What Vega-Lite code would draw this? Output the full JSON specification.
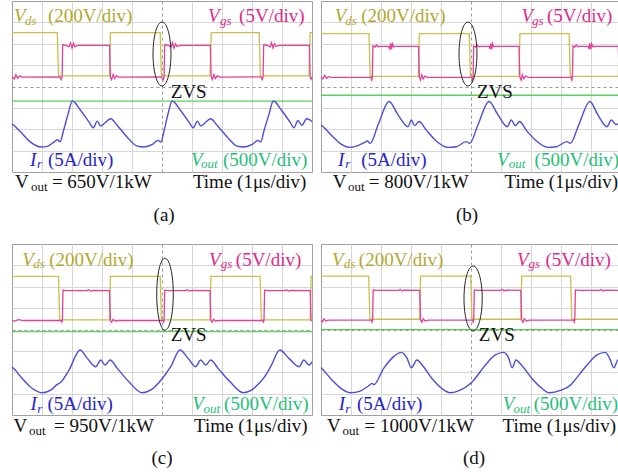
{
"$schema":"https://vega.github.io/schema/vega-lite/v6.json",
"padding":{"left":8,"top":0,"right":0,"bottom":0},
"background":"white",
"config":{"view":{"stroke":"#a0a0a0","strokeWidth":1},"axis":{"minExtent":0}},
"datasets":{
"w":[
{"p":"a","s":"vds","t":0,"v":2.52},{"p":"a","s":"vds","t":1.51,"v":2.52},{"p":"a","s":"vds","t":1.55,"v":0.5},{"p":"a","s":"vds","t":3.25,"v":0.5},{"p":"a","s":"vds","t":3.28,"v":2.52},{"p":"a","s":"vds","t":4.94,"v":2.52},{"p":"a","s":"vds","t":4.98,"v":0.5},{"p":"a","s":"vds","t":6.6,"v":0.5},{"p":"a","s":"vds","t":6.64,"v":2.52},{"p":"a","s":"vds","t":8.24,"v":2.52},{"p":"a","s":"vds","t":8.28,"v":0.5},{"p":"a","s":"vds","t":9.9,"v":0.5},{"p":"a","s":"vds","t":9.94,"v":2.52},{"p":"a","s":"vds","t":10,"v":2.52},
{"p":"a","s":"vgs","t":0,"v":0.45},{"p":"a","s":"vgs","t":0.08,"v":0.36},{"p":"a","s":"vgs","t":0.13,"v":0.55},{"p":"a","s":"vgs","t":0.19,"v":0.38},{"p":"a","s":"vgs","t":0.26,"v":0.5},{"p":"a","s":"vgs","t":0.34,"v":0.44},{"p":"a","s":"vgs","t":1.6,"v":0.45},{"p":"a","s":"vgs","t":1.64,"v":0.32},{"p":"a","s":"vgs","t":1.67,"v":0.45},{"p":"a","s":"vgs","t":1.69,"v":1.95},{"p":"a","s":"vgs","t":1.8,"v":1.92},{"p":"a","s":"vgs","t":1.9,"v":1.86},{"p":"a","s":"vgs","t":1.95,"v":2.04},{"p":"a","s":"vgs","t":2.0,"v":1.8},{"p":"a","s":"vgs","t":2.05,"v":2.02},{"p":"a","s":"vgs","t":2.1,"v":1.86},{"p":"a","s":"vgs","t":2.18,"v":1.92},{"p":"a","s":"vgs","t":3.25,"v":1.92},{"p":"a","s":"vgs","t":3.28,"v":0.45},{"p":"a","s":"vgs","t":3.32,"v":0.32},{"p":"a","s":"vgs","t":3.37,"v":0.56},{"p":"a","s":"vgs","t":3.42,"v":0.37},{"p":"a","s":"vgs","t":3.48,"v":0.51},{"p":"a","s":"vgs","t":3.56,"v":0.44},{"p":"a","s":"vgs","t":4.98,"v":0.45},{"p":"a","s":"vgs","t":5.04,"v":0.32},{"p":"a","s":"vgs","t":5.07,"v":0.45},{"p":"a","s":"vgs","t":5.09,"v":1.95},{"p":"a","s":"vgs","t":5.2,"v":1.93},{"p":"a","s":"vgs","t":5.3,"v":1.85},{"p":"a","s":"vgs","t":5.35,"v":2.05},{"p":"a","s":"vgs","t":5.4,"v":1.8},{"p":"a","s":"vgs","t":5.45,"v":2.0},{"p":"a","s":"vgs","t":5.5,"v":1.87},{"p":"a","s":"vgs","t":5.6,"v":1.92},{"p":"a","s":"vgs","t":6.61,"v":1.92},{"p":"a","s":"vgs","t":6.64,"v":0.45},{"p":"a","s":"vgs","t":6.68,"v":0.32},{"p":"a","s":"vgs","t":6.73,"v":0.56},{"p":"a","s":"vgs","t":6.78,"v":0.37},{"p":"a","s":"vgs","t":6.84,"v":0.51},{"p":"a","s":"vgs","t":6.92,"v":0.44},{"p":"a","s":"vgs","t":8.3,"v":0.45},{"p":"a","s":"vgs","t":8.34,"v":0.32},{"p":"a","s":"vgs","t":8.37,"v":0.45},{"p":"a","s":"vgs","t":8.39,"v":1.95},{"p":"a","s":"vgs","t":8.5,"v":1.93},{"p":"a","s":"vgs","t":8.6,"v":1.85},{"p":"a","s":"vgs","t":8.65,"v":2.05},{"p":"a","s":"vgs","t":8.7,"v":1.8},{"p":"a","s":"vgs","t":8.75,"v":2.0},{"p":"a","s":"vgs","t":8.8,"v":1.87},{"p":"a","s":"vgs","t":8.9,"v":1.92},{"p":"a","s":"vgs","t":9.91,"v":1.92},{"p":"a","s":"vgs","t":9.94,"v":0.45},{"p":"a","s":"vgs","t":9.97,"v":0.34},{"p":"a","s":"vgs","t":10,"v":0.45},
{"p":"a","s":"vout","t":0,"v":-0.68},{"p":"a","s":"vout","t":10,"v":-0.68},
{"p":"a","s":"ir","t":0,"v":-1.75},{"p":"a","s":"ir","t":0.03,"v":-1.78},{"p":"a","s":"ir","t":0.29,"v":-2.13},{"p":"a","s":"ir","t":0.62,"v":-2.6},{"p":"a","s":"ir","t":0.96,"v":-2.83},{"p":"a","s":"ir","t":1.18,"v":-2.8},{"p":"a","s":"ir","t":1.4,"v":-2.6},{"p":"a","s":"ir","t":1.51,"v":-2.49},{"p":"a","s":"ir","t":1.6,"v":-2.58},{"p":"a","s":"ir","t":1.73,"v":-2.0},{"p":"a","s":"ir","t":1.87,"v":-1.28},{"p":"a","s":"ir","t":2.01,"v":-0.68},{"p":"a","s":"ir","t":2.29,"v":-1.12},{"p":"a","s":"ir","t":2.57,"v":-1.67},{"p":"a","s":"ir","t":2.71,"v":-1.93},{"p":"a","s":"ir","t":2.84,"v":-1.62},{"p":"a","s":"ir","t":2.96,"v":-1.85},{"p":"a","s":"ir","t":3.12,"v":-1.67},{"p":"a","s":"ir","t":3.29,"v":-1.51},{"p":"a","s":"ir","t":3.51,"v":-1.82},{"p":"a","s":"ir","t":3.84,"v":-2.37},{"p":"a","s":"ir","t":4.18,"v":-2.79},{"p":"a","s":"ir","t":4.4,"v":-2.83},{"p":"a","s":"ir","t":4.68,"v":-2.71},{"p":"a","s":"ir","t":4.87,"v":-2.52},{"p":"a","s":"ir","t":4.96,"v":-2.6},{"p":"a","s":"ir","t":5.07,"v":-2.07},{"p":"a","s":"ir","t":5.2,"v":-1.28},{"p":"a","s":"ir","t":5.34,"v":-0.68},{"p":"a","s":"ir","t":5.62,"v":-1.12},{"p":"a","s":"ir","t":5.9,"v":-1.67},{"p":"a","s":"ir","t":6.04,"v":-1.93},{"p":"a","s":"ir","t":6.18,"v":-1.62},{"p":"a","s":"ir","t":6.29,"v":-1.85},{"p":"a","s":"ir","t":6.46,"v":-1.67},{"p":"a","s":"ir","t":6.62,"v":-1.51},{"p":"a","s":"ir","t":6.84,"v":-1.82},{"p":"a","s":"ir","t":7.18,"v":-2.37},{"p":"a","s":"ir","t":7.51,"v":-2.79},{"p":"a","s":"ir","t":7.73,"v":-2.83},{"p":"a","s":"ir","t":8.01,"v":-2.71},{"p":"a","s":"ir","t":8.2,"v":-2.52},{"p":"a","s":"ir","t":8.29,"v":-2.6},{"p":"a","s":"ir","t":8.4,"v":-2.07},{"p":"a","s":"ir","t":8.57,"v":-1.28},{"p":"a","s":"ir","t":8.71,"v":-0.68},{"p":"a","s":"ir","t":8.99,"v":-1.12},{"p":"a","s":"ir","t":9.27,"v":-1.67},{"p":"a","s":"ir","t":9.4,"v":-1.93},{"p":"a","s":"ir","t":9.53,"v":-1.59},{"p":"a","s":"ir","t":9.66,"v":-1.82},{"p":"a","s":"ir","t":9.82,"v":-1.51},{"p":"a","s":"ir","t":9.96,"v":-1.59},{"p":"a","s":"ir","t":10,"v":-1.65},

{"p":"b","s":"vds","t":0,"v":2.47},{"p":"b","s":"vds","t":1.6,"v":2.47},{"p":"b","s":"vds","t":1.64,"v":0.47},{"p":"b","s":"vds","t":3.25,"v":0.47},{"p":"b","s":"vds","t":3.28,"v":2.47},{"p":"b","s":"vds","t":4.94,"v":2.47},{"p":"b","s":"vds","t":4.98,"v":0.47},{"p":"b","s":"vds","t":6.6,"v":0.47},{"p":"b","s":"vds","t":6.63,"v":2.47},{"p":"b","s":"vds","t":8.27,"v":2.47},{"p":"b","s":"vds","t":8.31,"v":0.47},{"p":"b","s":"vds","t":9.91,"v":0.47},{"p":"b","s":"vds","t":9.94,"v":2.47},{"p":"b","s":"vds","t":10,"v":2.47},
{"p":"b","s":"vgs","t":0,"v":0.43},{"p":"b","s":"vgs","t":0.06,"v":0.35},{"p":"b","s":"vgs","t":0.12,"v":0.52},{"p":"b","s":"vgs","t":0.18,"v":0.38},{"p":"b","s":"vgs","t":0.25,"v":0.46},{"p":"b","s":"vgs","t":0.33,"v":0.43},{"p":"b","s":"vgs","t":1.66,"v":0.43},{"p":"b","s":"vgs","t":1.69,"v":0.3},{"p":"b","s":"vgs","t":1.71,"v":0.43},{"p":"b","s":"vgs","t":1.73,"v":1.9},{"p":"b","s":"vgs","t":1.8,"v":1.84},{"p":"b","s":"vgs","t":1.85,"v":1.95},{"p":"b","s":"vgs","t":1.9,"v":1.86},{"p":"b","s":"vgs","t":2.0,"v":1.88},{"p":"b","s":"vgs","t":2.25,"v":1.88},{"p":"b","s":"vgs","t":2.29,"v":1.76},{"p":"b","s":"vgs","t":2.32,"v":2.02},{"p":"b","s":"vgs","t":2.35,"v":1.74},{"p":"b","s":"vgs","t":2.38,"v":2.0},{"p":"b","s":"vgs","t":2.42,"v":1.86},{"p":"b","s":"vgs","t":2.5,"v":1.88},{"p":"b","s":"vgs","t":3.25,"v":1.88},{"p":"b","s":"vgs","t":3.28,"v":0.43},{"p":"b","s":"vgs","t":3.32,"v":0.3},{"p":"b","s":"vgs","t":3.36,"v":0.54},{"p":"b","s":"vgs","t":3.41,"v":0.36},{"p":"b","s":"vgs","t":3.47,"v":0.49},{"p":"b","s":"vgs","t":3.55,"v":0.43},{"p":"b","s":"vgs","t":5.02,"v":0.43},{"p":"b","s":"vgs","t":5.05,"v":0.3},{"p":"b","s":"vgs","t":5.07,"v":0.43},{"p":"b","s":"vgs","t":5.09,"v":1.9},{"p":"b","s":"vgs","t":5.15,"v":1.84},{"p":"b","s":"vgs","t":5.2,"v":1.95},{"p":"b","s":"vgs","t":5.25,"v":1.86},{"p":"b","s":"vgs","t":5.35,"v":1.88},{"p":"b","s":"vgs","t":5.6,"v":1.88},{"p":"b","s":"vgs","t":5.63,"v":1.76},{"p":"b","s":"vgs","t":5.66,"v":2.02},{"p":"b","s":"vgs","t":5.69,"v":1.74},{"p":"b","s":"vgs","t":5.72,"v":2.0},{"p":"b","s":"vgs","t":5.76,"v":1.86},{"p":"b","s":"vgs","t":5.85,"v":1.88},{"p":"b","s":"vgs","t":6.6,"v":1.88},{"p":"b","s":"vgs","t":6.63,"v":0.43},{"p":"b","s":"vgs","t":6.67,"v":0.3},{"p":"b","s":"vgs","t":6.71,"v":0.54},{"p":"b","s":"vgs","t":6.76,"v":0.36},{"p":"b","s":"vgs","t":6.82,"v":0.49},{"p":"b","s":"vgs","t":6.9,"v":0.43},{"p":"b","s":"vgs","t":8.33,"v":0.43},{"p":"b","s":"vgs","t":8.36,"v":0.3},{"p":"b","s":"vgs","t":8.38,"v":0.43},{"p":"b","s":"vgs","t":8.4,"v":1.9},{"p":"b","s":"vgs","t":8.46,"v":1.84},{"p":"b","s":"vgs","t":8.51,"v":1.95},{"p":"b","s":"vgs","t":8.56,"v":1.86},{"p":"b","s":"vgs","t":8.65,"v":1.88},{"p":"b","s":"vgs","t":8.9,"v":1.88},{"p":"b","s":"vgs","t":8.93,"v":1.76},{"p":"b","s":"vgs","t":8.96,"v":2.02},{"p":"b","s":"vgs","t":8.99,"v":1.74},{"p":"b","s":"vgs","t":9.02,"v":2.0},{"p":"b","s":"vgs","t":9.06,"v":1.86},{"p":"b","s":"vgs","t":9.15,"v":1.88},{"p":"b","s":"vgs","t":9.91,"v":1.88},{"p":"b","s":"vgs","t":9.94,"v":0.43},{"p":"b","s":"vgs","t":9.97,"v":0.32},{"p":"b","s":"vgs","t":10,"v":0.43},
{"p":"b","s":"vout","t":0,"v":-0.41},{"p":"b","s":"vout","t":10,"v":-0.41},
{"p":"b","s":"ir","t":0,"v":-1.8},{"p":"b","s":"ir","t":0.03,"v":-1.83},{"p":"b","s":"ir","t":0.34,"v":-2.27},{"p":"b","s":"ir","t":0.68,"v":-2.71},{"p":"b","s":"ir","t":0.96,"v":-2.85},{"p":"b","s":"ir","t":1.23,"v":-2.77},{"p":"b","s":"ir","t":1.46,"v":-2.61},{"p":"b","s":"ir","t":1.54,"v":-2.55},{"p":"b","s":"ir","t":1.64,"v":-2.66},{"p":"b","s":"ir","t":1.9,"v":-1.8},{"p":"b","s":"ir","t":2.27,"v":-0.7},{"p":"b","s":"ir","t":2.57,"v":-1.33},{"p":"b","s":"ir","t":2.9,"v":-1.88},{"p":"b","s":"ir","t":3.01,"v":-1.57},{"p":"b","s":"ir","t":3.12,"v":-1.83},{"p":"b","s":"ir","t":3.27,"v":-1.64},{"p":"b","s":"ir","t":3.51,"v":-2.04},{"p":"b","s":"ir","t":3.84,"v":-2.55},{"p":"b","s":"ir","t":4.23,"v":-2.85},{"p":"b","s":"ir","t":4.51,"v":-2.82},{"p":"b","s":"ir","t":4.84,"v":-2.58},{"p":"b","s":"ir","t":4.96,"v":-2.66},{"p":"b","s":"ir","t":5.23,"v":-1.8},{"p":"b","s":"ir","t":5.6,"v":-0.7},{"p":"b","s":"ir","t":5.9,"v":-1.33},{"p":"b","s":"ir","t":6.21,"v":-1.88},{"p":"b","s":"ir","t":6.34,"v":-1.57},{"p":"b","s":"ir","t":6.48,"v":-1.83},{"p":"b","s":"ir","t":6.62,"v":-1.64},{"p":"b","s":"ir","t":6.84,"v":-2.04},{"p":"b","s":"ir","t":7.18,"v":-2.55},{"p":"b","s":"ir","t":7.57,"v":-2.85},{"p":"b","s":"ir","t":7.84,"v":-2.82},{"p":"b","s":"ir","t":8.2,"v":-2.58},{"p":"b","s":"ir","t":8.31,"v":-2.66},{"p":"b","s":"ir","t":8.59,"v":-1.8},{"p":"b","s":"ir","t":8.96,"v":-0.7},{"p":"b","s":"ir","t":9.23,"v":-1.33},{"p":"b","s":"ir","t":9.53,"v":-1.88},{"p":"b","s":"ir","t":9.68,"v":-1.57},{"p":"b","s":"ir","t":9.84,"v":-1.78},{"p":"b","s":"ir","t":10,"v":-1.57},

{"p":"c","s":"vds","t":0,"v":2.49},{"p":"c","s":"vds","t":1.55,"v":2.49},{"p":"c","s":"vds","t":1.59,"v":0.45},{"p":"c","s":"vds","t":3.25,"v":0.45},{"p":"c","s":"vds","t":3.28,"v":2.49},{"p":"c","s":"vds","t":4.94,"v":2.49},{"p":"c","s":"vds","t":4.98,"v":0.45},{"p":"c","s":"vds","t":6.6,"v":0.45},{"p":"c","s":"vds","t":6.63,"v":2.49},{"p":"c","s":"vds","t":8.27,"v":2.49},{"p":"c","s":"vds","t":8.31,"v":0.45},{"p":"c","s":"vds","t":9.94,"v":0.45},{"p":"c","s":"vds","t":9.97,"v":2.49},{"p":"c","s":"vds","t":10,"v":2.49},
{"p":"c","s":"vgs","t":0,"v":0.42},{"p":"c","s":"vgs","t":0.1,"v":0.39},{"p":"c","s":"vgs","t":0.2,"v":0.46},{"p":"c","s":"vgs","t":0.4,"v":0.42},{"p":"c","s":"vgs","t":1.64,"v":0.42},{"p":"c","s":"vgs","t":1.66,"v":0.35},{"p":"c","s":"vgs","t":1.68,"v":0.42},{"p":"c","s":"vgs","t":1.7,"v":1.84},{"p":"c","s":"vgs","t":1.8,"v":1.82},{"p":"c","s":"vgs","t":2.5,"v":1.82},{"p":"c","s":"vgs","t":2.55,"v":1.86},{"p":"c","s":"vgs","t":2.62,"v":1.8},{"p":"c","s":"vgs","t":2.7,"v":1.83},{"p":"c","s":"vgs","t":3.25,"v":1.82},{"p":"c","s":"vgs","t":3.28,"v":0.42},{"p":"c","s":"vgs","t":3.32,"v":0.34},{"p":"c","s":"vgs","t":3.37,"v":0.48},{"p":"c","s":"vgs","t":3.43,"v":0.4},{"p":"c","s":"vgs","t":3.55,"v":0.42},{"p":"c","s":"vgs","t":5.03,"v":0.42},{"p":"c","s":"vgs","t":5.05,"v":0.35},{"p":"c","s":"vgs","t":5.07,"v":0.42},{"p":"c","s":"vgs","t":5.09,"v":1.84},{"p":"c","s":"vgs","t":5.2,"v":1.82},{"p":"c","s":"vgs","t":5.8,"v":1.82},{"p":"c","s":"vgs","t":5.85,"v":1.86},{"p":"c","s":"vgs","t":5.92,"v":1.8},{"p":"c","s":"vgs","t":6.0,"v":1.83},{"p":"c","s":"vgs","t":6.6,"v":1.82},{"p":"c","s":"vgs","t":6.63,"v":0.42},{"p":"c","s":"vgs","t":6.67,"v":0.34},{"p":"c","s":"vgs","t":6.72,"v":0.48},{"p":"c","s":"vgs","t":6.78,"v":0.4},{"p":"c","s":"vgs","t":6.9,"v":0.42},{"p":"c","s":"vgs","t":8.36,"v":0.42},{"p":"c","s":"vgs","t":8.38,"v":0.35},{"p":"c","s":"vgs","t":8.4,"v":0.42},{"p":"c","s":"vgs","t":8.42,"v":1.84},{"p":"c","s":"vgs","t":8.55,"v":1.82},{"p":"c","s":"vgs","t":9.1,"v":1.82},{"p":"c","s":"vgs","t":9.15,"v":1.86},{"p":"c","s":"vgs","t":9.22,"v":1.8},{"p":"c","s":"vgs","t":9.3,"v":1.83},{"p":"c","s":"vgs","t":9.94,"v":1.82},{"p":"c","s":"vgs","t":9.97,"v":0.42},{"p":"c","s":"vgs","t":10,"v":0.4},
{"p":"c","s":"vout","t":0,"v":-0.1},{"p":"c","s":"vout","t":10,"v":-0.1},
{"p":"c","s":"ir","t":0,"v":-1.76},{"p":"c","s":"ir","t":0.03,"v":-1.79},{"p":"c","s":"ir","t":0.34,"v":-2.29},{"p":"c","s":"ir","t":0.68,"v":-2.76},{"p":"c","s":"ir","t":1.01,"v":-2.96},{"p":"c","s":"ir","t":1.29,"v":-2.84},{"p":"c","s":"ir","t":1.51,"v":-2.57},{"p":"c","s":"ir","t":1.62,"v":-2.48},{"p":"c","s":"ir","t":1.9,"v":-1.9},{"p":"c","s":"ir","t":2.27,"v":-0.96},{"p":"c","s":"ir","t":2.51,"v":-1.35},{"p":"c","s":"ir","t":2.79,"v":-1.74},{"p":"c","s":"ir","t":2.96,"v":-1.43},{"p":"c","s":"ir","t":3.1,"v":-1.66},{"p":"c","s":"ir","t":3.27,"v":-1.43},{"p":"c","s":"ir","t":3.51,"v":-1.82},{"p":"c","s":"ir","t":3.9,"v":-2.45},{"p":"c","s":"ir","t":4.34,"v":-2.96},{"p":"c","s":"ir","t":4.62,"v":-2.84},{"p":"c","s":"ir","t":4.9,"v":-2.48},{"p":"c","s":"ir","t":5.01,"v":-2.29},{"p":"c","s":"ir","t":5.29,"v":-1.74},{"p":"c","s":"ir","t":5.6,"v":-0.96},{"p":"c","s":"ir","t":5.87,"v":-1.35},{"p":"c","s":"ir","t":6.12,"v":-1.74},{"p":"c","s":"ir","t":6.29,"v":-1.43},{"p":"c","s":"ir","t":6.46,"v":-1.66},{"p":"c","s":"ir","t":6.62,"v":-1.43},{"p":"c","s":"ir","t":6.87,"v":-1.82},{"p":"c","s":"ir","t":7.27,"v":-2.45},{"p":"c","s":"ir","t":7.71,"v":-2.96},{"p":"c","s":"ir","t":7.98,"v":-2.84},{"p":"c","s":"ir","t":8.23,"v":-2.53},{"p":"c","s":"ir","t":8.38,"v":-2.29},{"p":"c","s":"ir","t":8.62,"v":-1.74},{"p":"c","s":"ir","t":8.93,"v":-0.96},{"p":"c","s":"ir","t":9.23,"v":-1.35},{"p":"c","s":"ir","t":9.57,"v":-1.74},{"p":"c","s":"ir","t":9.73,"v":-1.43},{"p":"c","s":"ir","t":9.9,"v":-1.66},{"p":"c","s":"ir","t":10,"v":-1.51},

{"p":"d","s":"vds","t":0,"v":2.5},{"p":"d","s":"vds","t":1.59,"v":2.5},{"p":"d","s":"vds","t":1.63,"v":0.48},{"p":"d","s":"vds","t":3.29,"v":0.48},{"p":"d","s":"vds","t":3.32,"v":2.5},{"p":"d","s":"vds","t":4.99,"v":2.5},{"p":"d","s":"vds","t":5.03,"v":0.48},{"p":"d","s":"vds","t":6.66,"v":0.48},{"p":"d","s":"vds","t":6.69,"v":2.5},{"p":"d","s":"vds","t":8.32,"v":2.5},{"p":"d","s":"vds","t":8.36,"v":0.48},{"p":"d","s":"vds","t":9.96,"v":0.48},{"p":"d","s":"vds","t":9.99,"v":2.5},{"p":"d","s":"vds","t":10,"v":2.5},
{"p":"d","s":"vgs","t":0,"v":0.44},{"p":"d","s":"vgs","t":0.05,"v":0.36},{"p":"d","s":"vgs","t":0.1,"v":0.5},{"p":"d","s":"vgs","t":0.16,"v":0.4},{"p":"d","s":"vgs","t":0.25,"v":0.44},{"p":"d","s":"vgs","t":1.68,"v":0.44},{"p":"d","s":"vgs","t":1.7,"v":0.35},{"p":"d","s":"vgs","t":1.72,"v":0.44},{"p":"d","s":"vgs","t":1.74,"v":1.85},{"p":"d","s":"vgs","t":1.85,"v":1.83},{"p":"d","s":"vgs","t":2.6,"v":1.83},{"p":"d","s":"vgs","t":2.64,"v":1.88},{"p":"d","s":"vgs","t":2.7,"v":1.8},{"p":"d","s":"vgs","t":2.76,"v":1.84},{"p":"d","s":"vgs","t":3.29,"v":1.83},{"p":"d","s":"vgs","t":3.32,"v":0.44},{"p":"d","s":"vgs","t":3.36,"v":0.34},{"p":"d","s":"vgs","t":3.41,"v":0.5},{"p":"d","s":"vgs","t":3.47,"v":0.4},{"p":"d","s":"vgs","t":3.58,"v":0.44},{"p":"d","s":"vgs","t":5.05,"v":0.44},{"p":"d","s":"vgs","t":5.07,"v":0.35},{"p":"d","s":"vgs","t":5.09,"v":0.44},{"p":"d","s":"vgs","t":5.11,"v":1.85},{"p":"d","s":"vgs","t":5.25,"v":1.83},{"p":"d","s":"vgs","t":6.0,"v":1.83},{"p":"d","s":"vgs","t":6.04,"v":1.88},{"p":"d","s":"vgs","t":6.1,"v":1.8},{"p":"d","s":"vgs","t":6.16,"v":1.84},{"p":"d","s":"vgs","t":6.66,"v":1.83},{"p":"d","s":"vgs","t":6.69,"v":0.44},{"p":"d","s":"vgs","t":6.73,"v":0.34},{"p":"d","s":"vgs","t":6.78,"v":0.5},{"p":"d","s":"vgs","t":6.84,"v":0.4},{"p":"d","s":"vgs","t":6.95,"v":0.44},{"p":"d","s":"vgs","t":8.42,"v":0.44},{"p":"d","s":"vgs","t":8.44,"v":0.35},{"p":"d","s":"vgs","t":8.46,"v":0.44},{"p":"d","s":"vgs","t":8.48,"v":1.85},{"p":"d","s":"vgs","t":8.6,"v":1.83},{"p":"d","s":"vgs","t":9.3,"v":1.83},{"p":"d","s":"vgs","t":9.34,"v":1.88},{"p":"d","s":"vgs","t":9.4,"v":1.8},{"p":"d","s":"vgs","t":9.46,"v":1.84},{"p":"d","s":"vgs","t":9.96,"v":1.83},{"p":"d","s":"vgs","t":9.99,"v":0.44},{"p":"d","s":"vgs","t":10,"v":0.44},
{"p":"d","s":"vout","t":0,"v":-0.01},{"p":"d","s":"vout","t":10,"v":-0.01},
{"p":"d","s":"ir","t":0,"v":-1.78},{"p":"d","s":"ir","t":0.03,"v":-1.82},{"p":"d","s":"ir","t":0.37,"v":-2.37},{"p":"d","s":"ir","t":0.7,"v":-2.79},{"p":"d","s":"ir","t":0.98,"v":-2.96},{"p":"d","s":"ir","t":1.31,"v":-2.88},{"p":"d","s":"ir","t":1.59,"v":-2.63},{"p":"d","s":"ir","t":1.7,"v":-2.52},{"p":"d","s":"ir","t":1.76,"v":-2.58},{"p":"d","s":"ir","t":2.09,"v":-1.82},{"p":"d","s":"ir","t":2.42,"v":-1.27},{"p":"d","s":"ir","t":2.68,"v":-1.07},{"p":"d","s":"ir","t":2.87,"v":-1.35},{"p":"d","s":"ir","t":3.01,"v":-1.79},{"p":"d","s":"ir","t":3.2,"v":-1.43},{"p":"d","s":"ir","t":3.37,"v":-1.66},{"p":"d","s":"ir","t":3.7,"v":-2.29},{"p":"d","s":"ir","t":4.03,"v":-2.76},{"p":"d","s":"ir","t":4.31,"v":-2.96},{"p":"d","s":"ir","t":4.64,"v":-2.84},{"p":"d","s":"ir","t":4.98,"v":-2.53},{"p":"d","s":"ir","t":5.09,"v":-2.37},{"p":"d","s":"ir","t":5.48,"v":-1.66},{"p":"d","s":"ir","t":5.81,"v":-1.19},{"p":"d","s":"ir","t":6.09,"v":-1.07},{"p":"d","s":"ir","t":6.26,"v":-1.35},{"p":"d","s":"ir","t":6.37,"v":-1.79},{"p":"d","s":"ir","t":6.5,"v":-1.43},{"p":"d","s":"ir","t":6.68,"v":-1.66},{"p":"d","s":"ir","t":7.03,"v":-2.29},{"p":"d","s":"ir","t":7.37,"v":-2.76},{"p":"d","s":"ir","t":7.61,"v":-2.96},{"p":"d","s":"ir","t":7.98,"v":-2.85},{"p":"d","s":"ir","t":8.34,"v":-2.57},{"p":"d","s":"ir","t":8.46,"v":-2.37},{"p":"d","s":"ir","t":8.87,"v":-1.66},{"p":"d","s":"ir","t":9.2,"v":-1.19},{"p":"d","s":"ir","t":9.48,"v":-1.07},{"p":"d","s":"ir","t":9.62,"v":-1.35},{"p":"d","s":"ir","t":9.76,"v":-1.79},{"p":"d","s":"ir","t":9.9,"v":-1.43},{"p":"d","s":"ir","t":10,"v":-1.59}
],
"lab":[
{"p":"a","r":"sym","s":"vdsT","t":0.07,"v":3.01,"txt":"V"},{"p":"a","r":"sub","s":"vdsT","t":0.43,"v":2.9,"txt":"ds"},{"p":"a","r":"txt","s":"vdsT","t":1.2,"v":3.01,"txt":"(200V/div)"},
{"p":"a","r":"sym","s":"vgsT","t":6.53,"v":3.01,"txt":"V"},{"p":"a","r":"sub","s":"vgsT","t":6.93,"v":2.9,"txt":"gs"},{"p":"a","r":"txt","s":"vgsT","t":7.57,"v":3.01,"txt":"(5V/div)"},
{"p":"a","r":"sym","s":"irT","t":0.6,"v":-3.72,"txt":"I"},{"p":"a","r":"sub","s":"irT","t":0.83,"v":-3.83,"txt":"r"},{"p":"a","r":"txt","s":"irT","t":1.2,"v":-3.72,"txt":"(5A/div)"},
{"p":"a","r":"sym","s":"voutT","t":5.97,"v":-3.72,"txt":"V"},{"p":"a","r":"sub","s":"voutT","t":6.3,"v":-3.83,"txt":"out"},{"p":"a","r":"txt","s":"voutT","t":7.03,"v":-3.72,"txt":"(500V/div)"},
{"p":"a","r":"txt","s":"k","t":0.1,"v":-4.75,"txt":"V"},{"p":"a","r":"sub2","s":"k","t":0.63,"v":-4.89,"txt":"out"},{"p":"a","r":"txt","s":"k","t":1.33,"v":-4.75,"txt":"= 650V/1kW"},{"p":"a","r":"txt","s":"k","t":6.03,"v":-4.75,"txt":"Time (1μs/div)"},
{"p":"a","r":"txt","s":"k","t":5.29,"v":-0.52,"txt":"ZVS"},{"p":"a","r":"cap","s":"k","t":5.07,"v":-6.29,"txt":"(a)"},{"p":"a","r":"ell","s":"k","t":5.0,"v":1.52,"txt":""},

{"p":"b","r":"sym","s":"vdsT","t":0.46,"v":3.01,"txt":"V"},{"p":"b","r":"sub","s":"vdsT","t":0.81,"v":2.9,"txt":"ds"},{"p":"b","r":"txt","s":"vdsT","t":1.34,"v":3.01,"txt":"(200V/div)"},
{"p":"b","r":"sym","s":"vgsT","t":6.68,"v":3.01,"txt":"V"},{"p":"b","r":"sub","s":"vgsT","t":7.03,"v":2.9,"txt":"gs"},{"p":"b","r":"txt","s":"vgsT","t":7.53,"v":3.01,"txt":"(5V/div)"},
{"p":"b","r":"sym","s":"irT","t":0.57,"v":-3.72,"txt":"I"},{"p":"b","r":"sub","s":"irT","t":0.81,"v":-3.83,"txt":"r"},{"p":"b","r":"txt","s":"irT","t":1.34,"v":-3.72,"txt":"(5A/div)"},
{"p":"b","r":"sym","s":"voutT","t":5.87,"v":-3.72,"txt":"V"},{"p":"b","r":"sub","s":"voutT","t":6.26,"v":-3.83,"txt":"out"},{"p":"b","r":"txt","s":"voutT","t":7.12,"v":-3.72,"txt":"(500V/div)"},
{"p":"b","r":"txt","s":"k","t":0.39,"v":-4.75,"txt":"V"},{"p":"b","r":"sub2","s":"k","t":0.9,"v":-4.89,"txt":"out"},{"p":"b","r":"txt","s":"k","t":1.59,"v":-4.75,"txt":"= 800V/1kW"},{"p":"b","r":"txt","s":"k","t":6.12,"v":-4.75,"txt":"Time (1μs/div)"},
{"p":"b","r":"txt","s":"k","t":5.2,"v":-0.52,"txt":"ZVS"},{"p":"b","r":"cap","s":"k","t":4.87,"v":-6.29,"txt":"(b)"},{"p":"b","r":"ell","s":"k","t":4.9,"v":1.52,"txt":""},

{"p":"c","r":"sym","s":"vdsT","t":0.34,"v":2.97,"txt":"V"},{"p":"c","r":"sub","s":"vdsT","t":0.71,"v":2.86,"txt":"ds"},{"p":"c","r":"txt","s":"vdsT","t":1.24,"v":2.97,"txt":"(200V/div)"},
{"p":"c","r":"sym","s":"vgsT","t":6.57,"v":2.97,"txt":"V"},{"p":"c","r":"sub","s":"vgsT","t":6.96,"v":2.86,"txt":"gs"},{"p":"c","r":"txt","s":"vgsT","t":7.46,"v":2.97,"txt":"(5V/div)"},
{"p":"c","r":"sym","s":"irT","t":0.62,"v":-3.78,"txt":"I"},{"p":"c","r":"sub","s":"irT","t":0.84,"v":-3.89,"txt":"r"},{"p":"c","r":"txt","s":"irT","t":1.18,"v":-3.78,"txt":"(5A/div)"},
{"p":"c","r":"sym","s":"voutT","t":6.01,"v":-3.78,"txt":"V"},{"p":"c","r":"sub","s":"voutT","t":6.38,"v":-3.89,"txt":"out"},{"p":"c","r":"txt","s":"voutT","t":7.07,"v":-3.78,"txt":"(500V/div)"},
{"p":"c","r":"txt","s":"k","t":0.05,"v":-4.8,"txt":"V"},{"p":"c","r":"sub2","s":"k","t":0.57,"v":-4.94,"txt":"out"},{"p":"c","r":"txt","s":"k","t":1.4,"v":-4.8,"txt":"= 950V/1kW"},{"p":"c","r":"txt","s":"k","t":6.07,"v":-4.8,"txt":"Time (1μs/div)"},
{"p":"c","r":"txt","s":"k","t":5.29,"v":-0.54,"txt":"ZVS"},{"p":"c","r":"cap","s":"k","t":5.0,"v":-6.29,"txt":"(c)"},{"p":"c","r":"ell","s":"k","t":5.1,"v":1.65,"txt":""},

{"p":"d","r":"sym","s":"vdsT","t":0.37,"v":2.97,"txt":"V"},{"p":"d","r":"sub","s":"vdsT","t":0.76,"v":2.86,"txt":"ds"},{"p":"d","r":"txt","s":"vdsT","t":1.26,"v":2.97,"txt":"(200V/div)"},
{"p":"d","r":"sym","s":"vgsT","t":6.53,"v":2.97,"txt":"V"},{"p":"d","r":"sub","s":"vgsT","t":6.92,"v":2.86,"txt":"gs"},{"p":"d","r":"txt","s":"vgsT","t":7.48,"v":2.97,"txt":"(5V/div)"},
{"p":"d","r":"sym","s":"irT","t":0.59,"v":-3.78,"txt":"I"},{"p":"d","r":"sub","s":"irT","t":0.81,"v":-3.89,"txt":"r"},{"p":"d","r":"txt","s":"irT","t":1.2,"v":-3.78,"txt":"(5A/div)"},
{"p":"d","r":"sym","s":"voutT","t":6.06,"v":-3.78,"txt":"V"},{"p":"d","r":"sub","s":"voutT","t":6.42,"v":-3.89,"txt":"out"},{"p":"d","r":"txt","s":"voutT","t":7.09,"v":-3.78,"txt":"(500V/div)"},
{"p":"d","r":"txt","s":"k","t":0.2,"v":-4.8,"txt":"V"},{"p":"d","r":"sub2","s":"k","t":0.72,"v":-4.94,"txt":"out"},{"p":"d","r":"txt","s":"k","t":1.45,"v":-4.8,"txt":"= 1000V/1kW"},{"p":"d","r":"txt","s":"k","t":6.05,"v":-4.8,"txt":"Time (1μs/div)"},
{"p":"d","r":"txt","s":"k","t":5.26,"v":-0.54,"txt":"ZVS"},{"p":"d","r":"cap","s":"k","t":5.1,"v":-6.29,"txt":"(d)"},{"p":"d","r":"ell","s":"k","t":5.07,"v":1.45,"txt":""}
]
},
"columns":2,
"spacing":{"row":72,"column":9},
"bounds":"flush",
"concat":[
{"width":300,"height":171,
"encoding":{"x":{"field":"t","type":"quantitative","scale":{"domain":[0,10],"nice":false,"zero":false},"axis":{"values":[1,2,3,4,5,6,7,8,9],"labels":false,"ticks":false,"domain":false,"title":null,"grid":true,"gridColor":{"condition":{"test":"datum.value==5","value":"#9a9a9a"},"value":"#d6d6d6"},"gridDash":{"condition":{"test":"datum.value==5","value":[3,3]},"value":[]}}},
"y":{"field":"v","type":"quantitative","scale":{"domain":[-4,4],"nice":false,"zero":false},"axis":{"values":[-3,-2,-1,0,1,2,3],"labels":false,"ticks":false,"domain":false,"title":null,"grid":true,"gridColor":{"condition":{"test":"datum.value==0","value":"#9a9a9a"},"value":"#d6d6d6"},"gridDash":{"condition":{"test":"datum.value==0","value":[3,3]},"value":[]}}}},
"layer":[
{"data":{"name":"w"},"transform":[{"filter":"datum.p=='a' && datum.s!='ir'"}],"mark":{"type":"line","strokeWidth":1.3},"encoding":{"color":{"field":"s","type":"nominal","legend":null,"scale":{"domain":["vds","vgs","vout","ir","vdsT","vgsT","voutT","irT","k"],"range":["#c9bf4c","#e4409a","#5ad15a","#4d4dd9","#b2a830","#e02a8c","#1fbf78","#2424cc","#111111"]}}}},
{"data":{"name":"w"},"transform":[{"filter":"datum.p=='a' && datum.s=='ir'"}],"mark":{"type":"line","strokeWidth":1.4,"interpolate":"monotone"},"encoding":{"color":{"field":"s","type":"nominal","legend":null,"scale":{"domain":["vds","vgs","vout","ir","vdsT","vgsT","voutT","irT","k"],"range":["#c9bf4c","#e4409a","#5ad15a","#4d4dd9","#b2a830","#e02a8c","#1fbf78","#2424cc","#111111"]}}}},
{"data":{"name":"lab"},"transform":[{"filter":"datum.p=='a' && datum.r=='ell'"}],"mark":{"type":"point","filled":false,"stroke":"#222","strokeWidth":1,"opacity":1,"size":4096,"shape":"M0,-1C0.155,-1,0.28,-0.552,0.28,0C0.28,0.552,0.155,1,0,1C-0.155,1,-0.28,0.552,-0.28,0C-0.28,-0.552,-0.155,-1,0,-1Z"}},
{"data":{"name":"lab"},"transform":[{"filter":"datum.p=='a' && datum.r=='sym'"}],"mark":{"type":"text","align":"left","baseline":"alphabetic","font":"Liberation Serif","fontSize":19,"fontStyle":"italic"},"encoding":{"text":{"field":"txt"},"color":{"field":"s","type":"nominal","legend":null,"scale":{"domain":["vds","vgs","vout","ir","vdsT","vgsT","voutT","irT","k"],"range":["#c9bf4c","#e4409a","#5ad15a","#4d4dd9","#b2a830","#e02a8c","#1fbf78","#2424cc","#111111"]}}}},
{"data":{"name":"lab"},"transform":[{"filter":"datum.p=='a' && datum.r=='sub'"}],"mark":{"type":"text","align":"left","baseline":"alphabetic","font":"Liberation Serif","fontSize":13,"fontStyle":"italic"},"encoding":{"text":{"field":"txt"},"color":{"field":"s","type":"nominal","legend":null,"scale":{"domain":["vds","vgs","vout","ir","vdsT","vgsT","voutT","irT","k"],"range":["#c9bf4c","#e4409a","#5ad15a","#4d4dd9","#b2a830","#e02a8c","#1fbf78","#2424cc","#111111"]}}}},
{"data":{"name":"lab"},"transform":[{"filter":"datum.p=='a' && datum.r=='txt'"}],"mark":{"type":"text","align":"left","baseline":"alphabetic","font":"Liberation Serif","fontSize":19},"encoding":{"text":{"field":"txt"},"color":{"field":"s","type":"nominal","legend":null,"scale":{"domain":["vds","vgs","vout","ir","vdsT","vgsT","voutT","irT","k"],"range":["#c9bf4c","#e4409a","#5ad15a","#4d4dd9","#b2a830","#e02a8c","#1fbf78","#2424cc","#111111"]}}}},
{"data":{"name":"lab"},"transform":[{"filter":"datum.p=='a' && datum.r=='sub2'"}],"mark":{"type":"text","align":"left","baseline":"alphabetic","font":"Liberation Serif","fontSize":13,"color":"#111"},"encoding":{"text":{"field":"txt"}}},
{"data":{"name":"lab"},"transform":[{"filter":"datum.p=='a' && datum.r=='cap'"}],"mark":{"type":"text","align":"center","baseline":"alphabetic","font":"Liberation Serif","fontSize":19,"color":"#111"},"encoding":{"text":{"field":"txt"}}}
]},
{"width":300,"height":171,
"encoding":{"x":{"field":"t","type":"quantitative","scale":{"domain":[0,10],"nice":false,"zero":false},"axis":{"values":[1,2,3,4,5,6,7,8,9],"labels":false,"ticks":false,"domain":false,"title":null,"grid":true,"gridColor":{"condition":{"test":"datum.value==5","value":"#9a9a9a"},"value":"#d6d6d6"},"gridDash":{"condition":{"test":"datum.value==5","value":[3,3]},"value":[]}}},
"y":{"field":"v","type":"quantitative","scale":{"domain":[-4,4],"nice":false,"zero":false},"axis":{"values":[-3,-2,-1,0,1,2,3],"labels":false,"ticks":false,"domain":false,"title":null,"grid":true,"gridColor":{"condition":{"test":"datum.value==0","value":"#9a9a9a"},"value":"#d6d6d6"},"gridDash":{"condition":{"test":"datum.value==0","value":[3,3]},"value":[]}}}},
"layer":[
{"data":{"name":"w"},"transform":[{"filter":"datum.p=='b' && datum.s!='ir'"}],"mark":{"type":"line","strokeWidth":1.3},"encoding":{"color":{"field":"s","type":"nominal","legend":null,"scale":{"domain":["vds","vgs","vout","ir","vdsT","vgsT","voutT","irT","k"],"range":["#c9bf4c","#e4409a","#5ad15a","#4d4dd9","#b2a830","#e02a8c","#1fbf78","#2424cc","#111111"]}}}},
{"data":{"name":"w"},"transform":[{"filter":"datum.p=='b' && datum.s=='ir'"}],"mark":{"type":"line","strokeWidth":1.4,"interpolate":"monotone"},"encoding":{"color":{"field":"s","type":"nominal","legend":null,"scale":{"domain":["vds","vgs","vout","ir","vdsT","vgsT","voutT","irT","k"],"range":["#c9bf4c","#e4409a","#5ad15a","#4d4dd9","#b2a830","#e02a8c","#1fbf78","#2424cc","#111111"]}}}},
{"data":{"name":"lab"},"transform":[{"filter":"datum.p=='b' && datum.r=='ell'"}],"mark":{"type":"point","filled":false,"stroke":"#222","strokeWidth":1,"opacity":1,"size":4096,"shape":"M0,-1C0.155,-1,0.28,-0.552,0.28,0C0.28,0.552,0.155,1,0,1C-0.155,1,-0.28,0.552,-0.28,0C-0.28,-0.552,-0.155,-1,0,-1Z"}},
{"data":{"name":"lab"},"transform":[{"filter":"datum.p=='b' && datum.r=='sym'"}],"mark":{"type":"text","align":"left","baseline":"alphabetic","font":"Liberation Serif","fontSize":19,"fontStyle":"italic"},"encoding":{"text":{"field":"txt"},"color":{"field":"s","type":"nominal","legend":null,"scale":{"domain":["vds","vgs","vout","ir","vdsT","vgsT","voutT","irT","k"],"range":["#c9bf4c","#e4409a","#5ad15a","#4d4dd9","#b2a830","#e02a8c","#1fbf78","#2424cc","#111111"]}}}},
{"data":{"name":"lab"},"transform":[{"filter":"datum.p=='b' && datum.r=='sub'"}],"mark":{"type":"text","align":"left","baseline":"alphabetic","font":"Liberation Serif","fontSize":13,"fontStyle":"italic"},"encoding":{"text":{"field":"txt"},"color":{"field":"s","type":"nominal","legend":null,"scale":{"domain":["vds","vgs","vout","ir","vdsT","vgsT","voutT","irT","k"],"range":["#c9bf4c","#e4409a","#5ad15a","#4d4dd9","#b2a830","#e02a8c","#1fbf78","#2424cc","#111111"]}}}},
{"data":{"name":"lab"},"transform":[{"filter":"datum.p=='b' && datum.r=='txt'"}],"mark":{"type":"text","align":"left","baseline":"alphabetic","font":"Liberation Serif","fontSize":19},"encoding":{"text":{"field":"txt"},"color":{"field":"s","type":"nominal","legend":null,"scale":{"domain":["vds","vgs","vout","ir","vdsT","vgsT","voutT","irT","k"],"range":["#c9bf4c","#e4409a","#5ad15a","#4d4dd9","#b2a830","#e02a8c","#1fbf78","#2424cc","#111111"]}}}},
{"data":{"name":"lab"},"transform":[{"filter":"datum.p=='b' && datum.r=='sub2'"}],"mark":{"type":"text","align":"left","baseline":"alphabetic","font":"Liberation Serif","fontSize":13,"color":"#111"},"encoding":{"text":{"field":"txt"}}},
{"data":{"name":"lab"},"transform":[{"filter":"datum.p=='b' && datum.r=='cap'"}],"mark":{"type":"text","align":"center","baseline":"alphabetic","font":"Liberation Serif","fontSize":19,"color":"#111"},"encoding":{"text":{"field":"txt"}}}
]},
{"width":300,"height":171,
"encoding":{"x":{"field":"t","type":"quantitative","scale":{"domain":[0,10],"nice":false,"zero":false},"axis":{"values":[1,2,3,4,5,6,7,8,9],"labels":false,"ticks":false,"domain":false,"title":null,"grid":true,"gridColor":{"condition":{"test":"datum.value==5","value":"#9a9a9a"},"value":"#d6d6d6"},"gridDash":{"condition":{"test":"datum.value==5","value":[3,3]},"value":[]}}},
"y":{"field":"v","type":"quantitative","scale":{"domain":[-4,4],"nice":false,"zero":false},"axis":{"values":[-3,-2,-1,0,1,2,3],"labels":false,"ticks":false,"domain":false,"title":null,"grid":true,"gridColor":{"condition":{"test":"datum.value==0","value":"#9a9a9a"},"value":"#d6d6d6"},"gridDash":{"condition":{"test":"datum.value==0","value":[3,3]},"value":[]}}}},
"layer":[
{"data":{"name":"w"},"transform":[{"filter":"datum.p=='c' && datum.s!='ir'"}],"mark":{"type":"line","strokeWidth":1.3},"encoding":{"color":{"field":"s","type":"nominal","legend":null,"scale":{"domain":["vds","vgs","vout","ir","vdsT","vgsT","voutT","irT","k"],"range":["#c9bf4c","#e4409a","#5ad15a","#4d4dd9","#b2a830","#e02a8c","#1fbf78","#2424cc","#111111"]}}}},
{"data":{"name":"w"},"transform":[{"filter":"datum.p=='c' && datum.s=='ir'"}],"mark":{"type":"line","strokeWidth":1.4,"interpolate":"monotone"},"encoding":{"color":{"field":"s","type":"nominal","legend":null,"scale":{"domain":["vds","vgs","vout","ir","vdsT","vgsT","voutT","irT","k"],"range":["#c9bf4c","#e4409a","#5ad15a","#4d4dd9","#b2a830","#e02a8c","#1fbf78","#2424cc","#111111"]}}}},
{"data":{"name":"lab"},"transform":[{"filter":"datum.p=='c' && datum.r=='ell'"}],"mark":{"type":"point","filled":false,"stroke":"#222","strokeWidth":1,"opacity":1,"size":5184,"shape":"M0,-1C0.127,-1,0.23,-0.552,0.23,0C0.23,0.552,0.127,1,0,1C-0.127,1,-0.23,0.552,-0.23,0C-0.23,-0.552,-0.127,-1,0,-1Z"}},
{"data":{"name":"lab"},"transform":[{"filter":"datum.p=='c' && datum.r=='sym'"}],"mark":{"type":"text","align":"left","baseline":"alphabetic","font":"Liberation Serif","fontSize":19,"fontStyle":"italic"},"encoding":{"text":{"field":"txt"},"color":{"field":"s","type":"nominal","legend":null,"scale":{"domain":["vds","vgs","vout","ir","vdsT","vgsT","voutT","irT","k"],"range":["#c9bf4c","#e4409a","#5ad15a","#4d4dd9","#b2a830","#e02a8c","#1fbf78","#2424cc","#111111"]}}}},
{"data":{"name":"lab"},"transform":[{"filter":"datum.p=='c' && datum.r=='sub'"}],"mark":{"type":"text","align":"left","baseline":"alphabetic","font":"Liberation Serif","fontSize":13,"fontStyle":"italic"},"encoding":{"text":{"field":"txt"},"color":{"field":"s","type":"nominal","legend":null,"scale":{"domain":["vds","vgs","vout","ir","vdsT","vgsT","voutT","irT","k"],"range":["#c9bf4c","#e4409a","#5ad15a","#4d4dd9","#b2a830","#e02a8c","#1fbf78","#2424cc","#111111"]}}}},
{"data":{"name":"lab"},"transform":[{"filter":"datum.p=='c' && datum.r=='txt'"}],"mark":{"type":"text","align":"left","baseline":"alphabetic","font":"Liberation Serif","fontSize":19},"encoding":{"text":{"field":"txt"},"color":{"field":"s","type":"nominal","legend":null,"scale":{"domain":["vds","vgs","vout","ir","vdsT","vgsT","voutT","irT","k"],"range":["#c9bf4c","#e4409a","#5ad15a","#4d4dd9","#b2a830","#e02a8c","#1fbf78","#2424cc","#111111"]}}}},
{"data":{"name":"lab"},"transform":[{"filter":"datum.p=='c' && datum.r=='sub2'"}],"mark":{"type":"text","align":"left","baseline":"alphabetic","font":"Liberation Serif","fontSize":13,"color":"#111"},"encoding":{"text":{"field":"txt"}}},
{"data":{"name":"lab"},"transform":[{"filter":"datum.p=='c' && datum.r=='cap'"}],"mark":{"type":"text","align":"center","baseline":"alphabetic","font":"Liberation Serif","fontSize":19,"color":"#111"},"encoding":{"text":{"field":"txt"}}}
]},
{"width":300,"height":171,
"encoding":{"x":{"field":"t","type":"quantitative","scale":{"domain":[0,10],"nice":false,"zero":false},"axis":{"values":[1,2,3,4,5,6,7,8,9],"labels":false,"ticks":false,"domain":false,"title":null,"grid":true,"gridColor":{"condition":{"test":"datum.value==5","value":"#9a9a9a"},"value":"#d6d6d6"},"gridDash":{"condition":{"test":"datum.value==5","value":[3,3]},"value":[]}}},
"y":{"field":"v","type":"quantitative","scale":{"domain":[-4,4],"nice":false,"zero":false},"axis":{"values":[-3,-2,-1,0,1,2,3],"labels":false,"ticks":false,"domain":false,"title":null,"grid":true,"gridColor":{"condition":{"test":"datum.value==0","value":"#9a9a9a"},"value":"#d6d6d6"},"gridDash":{"condition":{"test":"datum.value==0","value":[3,3]},"value":[]}}}},
"layer":[
{"data":{"name":"w"},"transform":[{"filter":"datum.p=='d' && datum.s!='ir'"}],"mark":{"type":"line","strokeWidth":1.3},"encoding":{"color":{"field":"s","type":"nominal","legend":null,"scale":{"domain":["vds","vgs","vout","ir","vdsT","vgsT","voutT","irT","k"],"range":["#c9bf4c","#e4409a","#5ad15a","#4d4dd9","#b2a830","#e02a8c","#1fbf78","#2424cc","#111111"]}}}},
{"data":{"name":"w"},"transform":[{"filter":"datum.p=='d' && datum.s=='ir'"}],"mark":{"type":"line","strokeWidth":1.4,"interpolate":"monotone"},"encoding":{"color":{"field":"s","type":"nominal","legend":null,"scale":{"domain":["vds","vgs","vout","ir","vdsT","vgsT","voutT","irT","k"],"range":["#c9bf4c","#e4409a","#5ad15a","#4d4dd9","#b2a830","#e02a8c","#1fbf78","#2424cc","#111111"]}}}},
{"data":{"name":"lab"},"transform":[{"filter":"datum.p=='d' && datum.r=='ell'"}],"mark":{"type":"point","filled":false,"stroke":"#222","strokeWidth":1,"opacity":1,"size":4225,"shape":"M0,-1C0.155,-1,0.28,-0.552,0.28,0C0.28,0.552,0.155,1,0,1C-0.155,1,-0.28,0.552,-0.28,0C-0.28,-0.552,-0.155,-1,0,-1Z"}},
{"data":{"name":"lab"},"transform":[{"filter":"datum.p=='d' && datum.r=='sym'"}],"mark":{"type":"text","align":"left","baseline":"alphabetic","font":"Liberation Serif","fontSize":19,"fontStyle":"italic"},"encoding":{"text":{"field":"txt"},"color":{"field":"s","type":"nominal","legend":null,"scale":{"domain":["vds","vgs","vout","ir","vdsT","vgsT","voutT","irT","k"],"range":["#c9bf4c","#e4409a","#5ad15a","#4d4dd9","#b2a830","#e02a8c","#1fbf78","#2424cc","#111111"]}}}},
{"data":{"name":"lab"},"transform":[{"filter":"datum.p=='d' && datum.r=='sub'"}],"mark":{"type":"text","align":"left","baseline":"alphabetic","font":"Liberation Serif","fontSize":13,"fontStyle":"italic"},"encoding":{"text":{"field":"txt"},"color":{"field":"s","type":"nominal","legend":null,"scale":{"domain":["vds","vgs","vout","ir","vdsT","vgsT","voutT","irT","k"],"range":["#c9bf4c","#e4409a","#5ad15a","#4d4dd9","#b2a830","#e02a8c","#1fbf78","#2424cc","#111111"]}}}},
{"data":{"name":"lab"},"transform":[{"filter":"datum.p=='d' && datum.r=='txt'"}],"mark":{"type":"text","align":"left","baseline":"alphabetic","font":"Liberation Serif","fontSize":19},"encoding":{"text":{"field":"txt"},"color":{"field":"s","type":"nominal","legend":null,"scale":{"domain":["vds","vgs","vout","ir","vdsT","vgsT","voutT","irT","k"],"range":["#c9bf4c","#e4409a","#5ad15a","#4d4dd9","#b2a830","#e02a8c","#1fbf78","#2424cc","#111111"]}}}},
{"data":{"name":"lab"},"transform":[{"filter":"datum.p=='d' && datum.r=='sub2'"}],"mark":{"type":"text","align":"left","baseline":"alphabetic","font":"Liberation Serif","fontSize":13,"color":"#111"},"encoding":{"text":{"field":"txt"}}},
{"data":{"name":"lab"},"transform":[{"filter":"datum.p=='d' && datum.r=='cap'"}],"mark":{"type":"text","align":"center","baseline":"alphabetic","font":"Liberation Serif","fontSize":19,"color":"#111"},"encoding":{"text":{"field":"txt"}}}
]}
]
}
